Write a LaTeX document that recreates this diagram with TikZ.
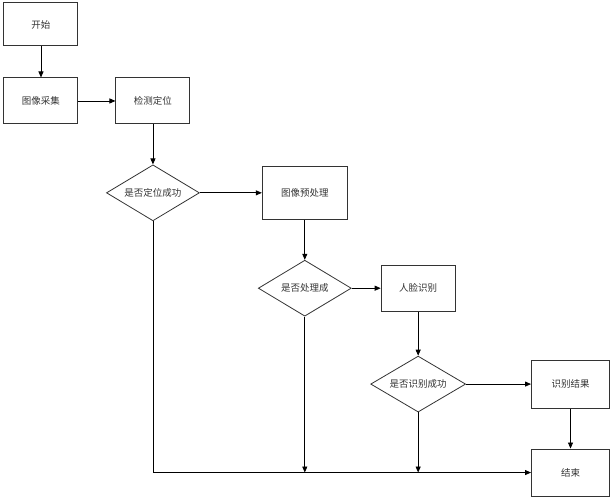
\documentclass[tikz,border=0pt]{standalone}
\usepackage{fontspec}
\newfontfamily\cjk{Noto Sans CJK SC}
\usepackage{xcolor}
\definecolor{cLine}{HTML}{000000}
\definecolor{cBorder}{HTML}{333333}
\definecolor{cText}{HTML}{333333}
\usetikzlibrary{positioning,arrows.meta,shapes.geometric,calc}
\tikzset{
  node-box/.style={draw=cBorder,line width=1pt,minimum height=46pt,
    minimum width=74pt,inner sep=1pt,align=center,text=cText,
    font=\cjk\fontsize{9.5}{11}\selectfont},
  node-wide/.style={minimum width=85pt,minimum height=53pt},
  node-dec/.style={draw=cBorder,line width=0.8pt,diamond,aspect=1.66,
    minimum width=93pt,minimum height=56pt,inner sep=0pt,align=center,
    text=cText,font=\cjk\fontsize{9.5}{11}\selectfont},
  arrow/.style={-{Triangle[length=6pt,width=5pt]},line width=0.8pt,draw=cLine},
}
\begin{document}
\begin{tikzpicture}
  \node[node-box,minimum height=43pt] (start) {开始};
  \node[node-box,below=31pt of start] (caiji) {图像采集};
  \node[node-box,right=37pt of caiji] (dingwei) {检测定位};
  \node[node-dec,below=40pt of dingwei] (d1) {是否定位成功};
  \node[node-box,node-wide,right=62pt of d1] (yuchuli) {图像预处理};
  \node[node-dec,below=40pt of yuchuli] (d2) {是否处理成};
  \node[node-box,right=29pt of d2] (shibie) {人脸识别};
  \node[node-dec,minimum width=95pt,below=44pt of shibie] (d3) {是否识别成功};
  \node[node-box,minimum width=78pt,minimum height=48pt,right=65pt of d3] (jieguo) {识别结果};
  \node[node-box,minimum width=78pt,minimum height=47pt,below=40pt of jieguo] (end) {结束};
  \useasboundingbox ([shift={(-41pt,24.5pt)}]start.center) rectangle ++(610pt,-494pt);
  \draw[arrow] (start) -- (caiji);
  \draw[arrow] (caiji) -- (dingwei);
  \draw[arrow] (dingwei) -- (d1);
  \draw[arrow] (d1) -- (yuchuli);
  \draw[arrow] (yuchuli) -- (d2);
  \draw[arrow] (d2) -- (shibie);
  \draw[arrow] (shibie) -- (d3);
  \draw[arrow] (d3) -- (jieguo);
  \draw[arrow] (jieguo) -- (end);
  % 失败分支汇入结束
  \draw[arrow] (d1.south) |- (end.west);
  \draw[arrow] (d2.south) -- (d2.south |- end.west);
  \draw[arrow] (d3.south) -- (d3.south |- end.west);
\end{tikzpicture}
\end{document}
